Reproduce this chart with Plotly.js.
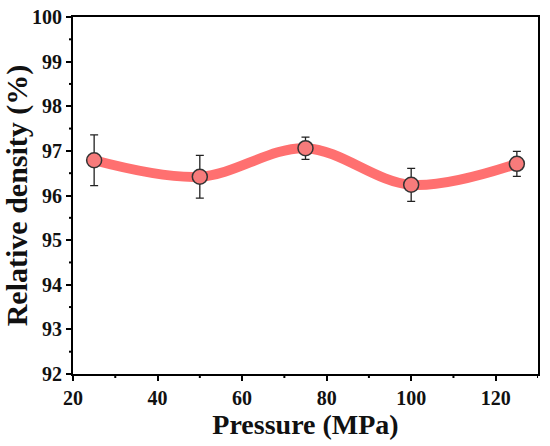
<!DOCTYPE html>
<html>
<head>
<meta charset="utf-8">
<script src="https://cdn.plot.ly/plotly-3.0.1.min.js"></script>
<style>html,body{margin:0;padding:0;background:#fff;}#chart{width:550px;height:446px;}.modebar-container,.modebar{display:none !important;}</style>
</head>
<body>
<div id="chart"></div>
<script>
const pressure = [25, 50, 75, 100, 125];
const density = [96.79, 96.42, 97.06, 96.24, 96.71];
const densityErr = [0.57, 0.48, 0.25, 0.37, 0.28];
const yTicks = [92, 93, 94, 95, 96, 97, 98, 99, 100];
const xMinorTicks = [30, 50, 70, 90, 110, 130];
const yMinorTicks = [92.5, 93.5, 94.5, 95.5, 96.5, 97.5, 98.5, 99.5];

const font = 'Liberation Serif';

const traces = [
  {
    x: pressure, y: density, type: 'scatter', mode: 'lines',
    line: {color: '#FF7070', width: 10, shape: 'spline', smoothing: 1},
    hoverinfo: 'skip', showlegend: false
  },
  {
    x: pressure, y: density, type: 'scatter', mode: 'markers',
    marker: {size: 15, color: '#F77B7B', line: {color: '#333333', width: 1.5}},
    error_y: {type: 'data', array: densityErr, visible: true, color: '#222222', thickness: 1.3, width: 4},
    showlegend: false
  }
];

const shapes = [];
xMinorTicks.forEach(v => shapes.push({type: 'line', xref: 'x', yref: 'paper',
  ysizemode: 'pixel', yanchor: 0, x0: v, x1: v, y0: -1, y1: -4,
  line: {color: '#000', width: 2}, layer: 'above'}));
yMinorTicks.forEach(v => shapes.push({type: 'line', xref: 'paper', yref: 'y',
  xsizemode: 'pixel', xanchor: 0, y0: v, y1: v, x0: -1, x1: -4,
  line: {color: '#000', width: 2}, layer: 'above'}));

const layout = {
  width: 550, height: 446,
  margin: {l: 73, r: 12, t: 17, b: 72},
  paper_bgcolor: '#fff', plot_bgcolor: '#fff',
  shapes: shapes,
  xaxis: {
    range: [20, 130], tick0: 20, dtick: 20,
    ticks: 'outside', ticklen: 5, tickwidth: 2, tickcolor: '#000',
    showline: true, linecolor: '#000', linewidth: 2, mirror: true,
    showgrid: false, zeroline: false,
    tickfont: {family: font, size: 20, color: '#111', weight: 700},
    title: {text: '<b>Pressure (MPa)</b>', font: {family: font, size: 28, color: '#111'}, standoff: 0}
  },
  yaxis: {
    range: [92, 100], tickmode: 'array', tickvals: yTicks, ticktext: yTicks.map(v => '<b>' + v + '</b>'),
    ticks: 'outside', ticklen: 5, tickwidth: 2, tickcolor: '#000',
    showline: true, linecolor: '#000', linewidth: 2, mirror: true,
    showgrid: false, zeroline: false,
    tickfont: {family: font, size: 20, color: '#111'},
    title: {text: '<b>Relative density (%)</b>', font: {family: font, size: 30, color: '#111'}, standoff: 4}
  }
};

Plotly.newPlot('chart', traces, layout);
</script>
</body>
</html>
